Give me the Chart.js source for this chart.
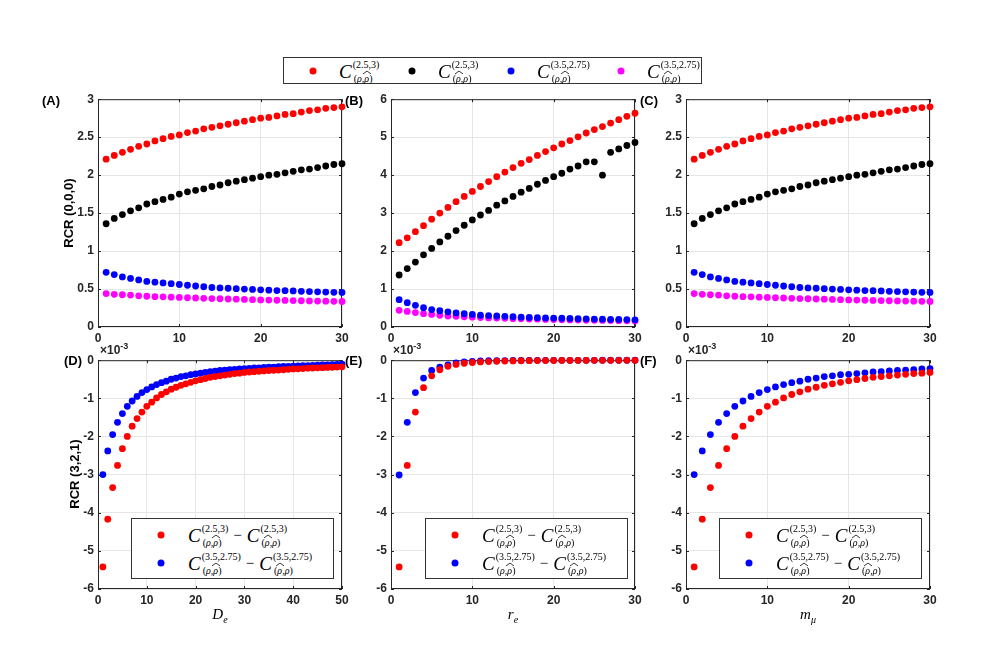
<!DOCTYPE html>
<html>
<head>
<meta charset="utf-8">
<script src="https://cdn.jsdelivr.net/npm/chart.js@4.4.1/dist/chart.umd.min.js"></script>
<style>
  body { margin: 0; background: #fff; }
  #fig { position: relative; width: 981px; height: 654px; background: #fff; overflow: hidden; }
  #fig canvas { position: absolute; }
  .lbl { position: absolute; font: bold 13px 'Liberation Sans', Arial, sans-serif; color: #000; white-space: nowrap; }
  .ylab { position: absolute; font: bold 13px 'Liberation Sans', Arial, sans-serif; color: #000; white-space: nowrap;
          transform: translate(-50%, -50%) rotate(-90deg); }
  .xlab { position: absolute; font: italic 15px 'Liberation Serif', 'DejaVu Serif', serif; color: #000;
          transform: translateX(-50%); white-space: nowrap; }
  .xlab sub { font-size: 10px; font-style: italic; }
  .expo { position: absolute; font: bold 12px 'Liberation Sans', Arial, sans-serif; color: #262626; white-space: nowrap; }
  .expo sup { font-size: 9px; }
  .lgbox { position: absolute; background: #fff; border: 1px solid #333; box-sizing: border-box; }
  .dot { position: absolute; width: 7px; height: 7px; border-radius: 50%; transform: translate(-50%, -50%); }
  .ent { position: absolute; transform: translateY(-50%); white-space: nowrap; display: flex; align-items: center;
         font-family: 'Liberation Serif', 'DejaVu Serif', serif; color: #000; }
  .mc { display: inline-flex; align-items: center; }
  .mc .C { font-style: italic; font-size: 19px; line-height: 19px; }
  .ss { display: inline-flex; flex-direction: column; font-size: 10px; line-height: 9px; margin-left: 1px; }
  .ss .sb { margin-top: 5px; padding-left: 1px; }
  .ss i { font-style: italic; }
  .hat { position: relative; display: inline-block; }
  .hat svg { position: absolute; left: -1px; top: -3px; }
  .minus { font-size: 15px; margin: 0 5px; }
</style>
</head>
<body>
<div id="fig"></div>
<script>
// x positions (shared by all panels)
const x30 = [1,2,3,4,5,6,7,8,9,10,11,12,13,14,15,16,17,18,19,20,21,22,23,24,25,26,27,28,29,30];
const x50 = [1,2,3,4,5,6,7,8,9,10,11,12,13,14,15,16,17,18,19,20,21,22,23,24,25,26,27,28,29,30,
             31,32,33,34,35,36,37,38,39,40,41,42,43,44,45,46,47,48,49,50];

// tick labels
const ticksX30 = [0, 10, 20, 30];
const ticksX50 = [0, 10, 20, 30, 40, 50];
const ticksY3 = [0, 0.5, 1, 1.5, 2, 2.5, 3];
const ticksY6 = [0, 1, 2, 3, 4, 5, 6];
const ticksYneg = [-6, -5, -4, -3, -2, -1, 0];

// panel A (and C): RCR(0,0,0) vs D_e / m_mu
const aRed = [2.21,2.26,2.30,2.34,2.38,2.41,2.45,2.48,2.51,2.53,2.56,2.58,2.61,2.63,2.65,2.67,2.69,2.71,2.73,2.75,2.76,2.78,2.80,2.81,2.83,2.85,2.86,2.88,2.89,2.90];
const aBlack = [1.36,1.43,1.48,1.53,1.57,1.62,1.65,1.68,1.71,1.75,1.78,1.80,1.82,1.85,1.87,1.90,1.92,1.94,1.96,1.98,2.00,2.01,2.03,2.05,2.07,2.08,2.10,2.12,2.14,2.15];
const aBlue = [0.72,0.69,0.66,0.64,0.62,0.60,0.59,0.58,0.57,0.56,0.55,0.54,0.53,0.52,0.515,0.51,0.505,0.50,0.495,0.49,0.485,0.48,0.478,0.475,0.47,0.467,0.463,0.46,0.457,0.455];
const aMagenta = [0.44,0.43,0.425,0.42,0.41,0.405,0.40,0.397,0.393,0.39,0.385,0.382,0.378,0.375,0.372,0.369,0.366,0.363,0.36,0.357,0.355,0.352,0.35,0.348,0.346,0.344,0.342,0.34,0.338,0.336];

// panel B: RCR(0,0,0) vs r_e
const bRed = [2.22,2.35,2.51,2.67,2.84,3.00,3.15,3.30,3.44,3.57,3.70,3.83,3.96,4.08,4.20,4.31,4.41,4.52,4.62,4.72,4.82,4.91,5.01,5.11,5.20,5.28,5.37,5.46,5.55,5.63];
const bBlack = [1.37,1.54,1.71,1.90,2.07,2.24,2.39,2.54,2.68,2.82,2.95,3.07,3.21,3.32,3.44,3.55,3.65,3.76,3.86,3.96,4.05,4.16,4.24,4.35,4.35,4.00,4.60,4.69,4.78,4.86];
const bBlue = [0.72,0.64,0.57,0.51,0.46,0.43,0.40,0.37,0.35,0.33,0.31,0.30,0.29,0.28,0.27,0.26,0.25,0.245,0.24,0.235,0.23,0.225,0.22,0.215,0.21,0.205,0.20,0.20,0.195,0.19];
const bMagenta = [0.44,0.41,0.38,0.35,0.33,0.31,0.29,0.28,0.27,0.26,0.25,0.24,0.235,0.23,0.22,0.215,0.21,0.205,0.20,0.195,0.19,0.186,0.182,0.178,0.175,0.172,0.169,0.166,0.163,0.16];

// panel D: RCR(3,2,1) differences vs D_e (x1e-3)
const dRed = [-5.42,-4.17,-3.34,-2.76,-2.32,-2.00,-1.73,-1.53,-1.36,-1.21,-1.10,-0.99,-0.90,-0.83,-0.76,-0.71,-0.66,-0.62,-0.58,-0.54,
              -0.51,-0.48,-0.45,-0.43,-0.41,-0.39,-0.37,-0.35,-0.34,-0.32,-0.31,-0.30,-0.29,-0.28,-0.27,-0.265,-0.26,-0.25,-0.24,-0.23,
              -0.225,-0.22,-0.21,-0.205,-0.20,-0.195,-0.19,-0.185,-0.18,-0.175];
const dBlue = [-3.00,-2.38,-1.95,-1.63,-1.40,-1.21,-1.07,-0.95,-0.85,-0.77,-0.70,-0.64,-0.59,-0.55,-0.50,-0.47,-0.43,-0.41,-0.38,-0.36,
               -0.34,-0.32,-0.30,-0.29,-0.27,-0.26,-0.25,-0.24,-0.23,-0.22,-0.215,-0.205,-0.20,-0.19,-0.185,-0.18,-0.17,-0.165,-0.16,-0.155,
               -0.15,-0.145,-0.14,-0.135,-0.13,-0.125,-0.12,-0.115,-0.11,-0.105];

// panel E: vs r_e
const eRed = [-5.42,-2.76,-1.36,-0.72,-0.41,-0.25,-0.16,-0.11,-0.08,-0.06,-0.045,-0.035,-0.028,-0.022,-0.018,-0.015,-0.012,-0.01,-0.009,-0.008,
              -0.007,-0.006,-0.005,-0.005,-0.004,-0.004,-0.003,-0.003,-0.003,-0.002];
const eBlue = [-3.01,-1.63,-0.85,-0.47,-0.27,-0.18,-0.12,-0.07,-0.045,-0.03,-0.02,-0.015,-0.012,-0.01,-0.008,-0.006,-0.005,-0.004,-0.004,-0.003,
               -0.003,-0.002,-0.002,-0.002,-0.002,-0.001,-0.001,-0.001,-0.001,-0.001];

// panel F: vs m_mu
const fRed = [-5.42,-4.17,-3.34,-2.76,-2.32,-2.00,-1.73,-1.53,-1.36,-1.21,-1.10,-0.99,-0.90,-0.83,-0.76,-0.71,-0.66,-0.62,-0.58,-0.54,
              -0.51,-0.48,-0.45,-0.43,-0.41,-0.39,-0.37,-0.35,-0.34,-0.32];
const fBlue = [-3.00,-2.38,-1.95,-1.63,-1.40,-1.21,-1.07,-0.95,-0.85,-0.77,-0.70,-0.64,-0.59,-0.55,-0.50,-0.47,-0.43,-0.41,-0.38,-0.37,
               -0.35,-0.33,-0.31,-0.30,-0.28,-0.27,-0.26,-0.25,-0.23,-0.22];

const RED = '#ff0000', BLACK = '#000000', BLUE = '#0000ff', MAGENTA = '#ff00ff';

// layout of the plot areas
const colLeft = [98, 391, 686];
const plotW = 244;
const rowTop = [98, 359];
const rowH = [229, 230];
const YW = 40, XH = 22, PT = 10, PR = 12;

const tickFont = { family: "'Liberation Sans', Arial, sans-serif", size: 12, weight: 'bold' };
const axisColor = '#262626';

// MATLAB-like box with inward ticks
const boxPlugin = {
  id: 'matlabBox',
  beforeDatasetsDraw(chart) {
    const { ctx, chartArea: a, scales } = chart;
    ctx.save();
    ctx.strokeStyle = axisColor;
    ctx.lineWidth = 1;
    ctx.strokeRect(a.left + 0.5, a.top + 0.5, a.right - a.left - 1, a.bottom - a.top - 1);
    ctx.beginPath();
    scales.x.ticks.forEach(t => {
      const px = Math.round(scales.x.getPixelForValue(t.value)) + 0.5;
      ctx.moveTo(px, a.bottom); ctx.lineTo(px, a.bottom - 3);
      ctx.moveTo(px, a.top); ctx.lineTo(px, a.top + 3);
    });
    scales.y.ticks.forEach(t => {
      const py = Math.round(scales.y.getPixelForValue(t.value)) + 0.5;
      ctx.moveTo(a.left, py); ctx.lineTo(a.left + 3, py);
      ctx.moveTo(a.right, py); ctx.lineTo(a.right - 3, py);
    });
    ctx.stroke();
    ctx.restore();
  }
};

function axis(ticks, fit) {
  return {
    type: 'linear',
    min: ticks[0],
    max: ticks[ticks.length - 1],
    afterBuildTicks: s => { s.ticks = ticks.map(v => ({ value: v })); },
    afterFit: fit,
    grid: { color: '#e6e6e6', drawTicks: false },
    border: { display: false },
    ticks: { font: tickFont, color: axisColor, padding: 4, autoSkip: false, maxRotation: 0,
             callback: v => String(v) }
  };
}

function series(xs, ys, color) {
  return {
    data: xs.map((x, i) => ({ x: x, y: ys[i] })),
    backgroundColor: color,
    borderWidth: 0,
    pointRadius: 3.4,
    pointHoverRadius: 3.4,
    showLine: false,
    clip: false
  };
}

const fig = document.getElementById('fig');

function panel(col, row, datasets, xTicks, yTicks) {
  const c = document.createElement('canvas');
  const w = YW + plotW + PR, h = PT + rowH[row] + XH;
  c.width = w; c.height = h;
  c.style.left = (colLeft[col] - YW) + 'px';
  c.style.top = (rowTop[row] - PT) + 'px';
  c.style.width = w + 'px'; c.style.height = h + 'px';
  fig.appendChild(c);
  return new Chart(c, {
    type: 'scatter',
    data: { datasets: datasets },
    options: {
      responsive: false,
      animation: false,
      events: [],
      layout: { padding: { top: PT, right: PR, left: 0, bottom: 0 } },
      plugins: { legend: { display: false }, tooltip: { enabled: false } },
      scales: {
        x: axis(xTicks, s => { s.height = XH; }),
        y: axis(yTicks, s => { s.width = YW; })
      }
    },
    plugins: [boxPlugin]
  });
}

panel(0, 0, [series(x30, aRed, RED), series(x30, aBlack, BLACK), series(x30, aBlue, BLUE), series(x30, aMagenta, MAGENTA)], ticksX30, ticksY3);
panel(1, 0, [series(x30, bRed, RED), series(x30, bBlack, BLACK), series(x30, bBlue, BLUE), series(x30, bMagenta, MAGENTA)], ticksX30, ticksY6);
panel(2, 0, [series(x30, aRed, RED), series(x30, aBlack, BLACK), series(x30, aBlue, BLUE), series(x30, aMagenta, MAGENTA)], ticksX30, ticksY3);
panel(0, 1, [series(x50, dRed, RED), series(x50, dBlue, BLUE)], ticksX50, ticksYneg);
panel(1, 1, [series(x30, eRed, RED), series(x30, eBlue, BLUE)], ticksX30, ticksYneg);
panel(2, 1, [series(x30, fRed, RED), series(x30, fBlue, BLUE)], ticksX30, ticksYneg);

// ---- text overlays ----
function add(html, cls, left, top) {
  const d = document.createElement('div');
  d.className = cls;
  d.innerHTML = html;
  d.style.left = left + 'px';
  d.style.top = top + 'px';
  fig.appendChild(d);
  return d;
}

const rho = '<i>ρ</i>';
const rhoHat = '<i class="hat">ρ<svg width="8" height="4"><polyline points="0,3.5 4,0.5 8,3.5" fill="none" stroke="#000" stroke-width="0.8"/></svg></i>';
function mathC(sup, hatSecond) {
  const sub = hatSecond ? '(' + rho + ',' + rhoHat + ')' : '(' + rhoHat + ',' + rho + ')';
  return '<span class="mc"><span class="C">C</span><span class="ss"><span class="sp">' + sup +
         '</span><span class="sb">' + sub + '</span></span></span>';
}

// panel letters
add('(A)', 'lbl', 42, 93);
add('(B)', 'lbl', 345, 93);
add('(C)', 'lbl', 640, 93);
add('(D)', 'lbl', 64, 353);
add('(E)', 'lbl', 345, 353);
add('(F)', 'lbl', 640, 353);

// y-axis titles
add('RCR (0,0,0)', 'ylab', 68, 213);
add('RCR (3,2,1)', 'ylab', 74, 474);

// exponent labels
colLeft.forEach(l => add('×10<sup>-3</sup>', 'expo', l + 2, 341));

// x-axis titles
add('D<sub>e</sub>', 'xlab', colLeft[0] + plotW / 2, 606);
add('r<sub>e</sub>', 'xlab', colLeft[1] + plotW / 2, 606);
add('m<sub>μ</sub>', 'xlab', colLeft[2] + plotW / 2, 606);

// top legend
const topLegend = add('', 'lgbox', 283, 57);
topLegend.style.width = '419px';
topLegend.style.height = '27px';
const topEntries = [
  [RED, mathC('(2.5,3)', true), 29, 55],
  [BLACK, mathC('(2.5,3)', false), 128, 154],
  [BLUE, mathC('(3.5,2.75)', true), 227, 253],
  [MAGENTA, mathC('(3.5,2.75)', false), 337, 363]
];
topEntries.forEach(e => {
  const dot = document.createElement('div');
  dot.className = 'dot';
  dot.style.background = e[0];
  dot.style.left = e[2] + 'px';
  dot.style.top = '13px';
  topLegend.appendChild(dot);
  const t = document.createElement('div');
  t.className = 'ent';
  t.innerHTML = e[1];
  t.style.left = e[3] + 'px';
  t.style.top = '13px';
  topLegend.appendChild(t);
});

// bottom legends
const diffRows = [
  [RED, mathC('(2.5,3)', true) + '<span class="minus">−</span>' + mathC('(2.5,3)', false)],
  [BLUE, mathC('(3.5,2.75)', true) + '<span class="minus">−</span>' + mathC('(3.5,2.75)', false)]
];
[131, 425, 719].forEach(l => {
  const box = add('', 'lgbox', l, 518);
  box.style.width = '203px';
  box.style.height = '61px';
  diffRows.forEach((r, i) => {
    const dot = document.createElement('div');
    dot.className = 'dot';
    dot.style.background = r[0];
    dot.style.left = '29px';
    dot.style.top = (16 + i * 28) + 'px';
    box.appendChild(dot);
    const t = document.createElement('div');
    t.className = 'ent';
    t.innerHTML = r[1];
    t.style.left = '56px';
    t.style.top = (16 + i * 28) + 'px';
    box.appendChild(t);
  });
});
</script>
</body>
</html>
